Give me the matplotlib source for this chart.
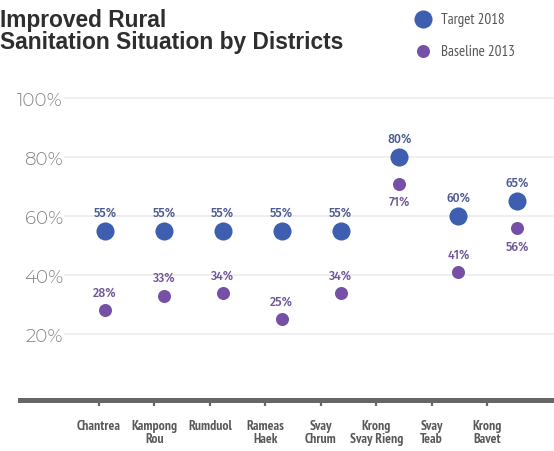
import matplotlib
matplotlib.use("Agg")
import matplotlib.pyplot as plt
import numpy as np

# ---- data ----
districts = ["Chantrea", "Kampong\nRou", "Rumduol", "Rameas\nHaek", "Svay\nChrum",
             "Krong\nSvay Rieng", "Svay\nTeab", "Krong\nBavet"]
target_2018 = [55, 55, 55, 55, 55, 80, 60, 65]
baseline_2013 = [28, 33, 34, 25, 34, 71, 41, 56]
baseline_label_below = [False, False, False, False, False, True, False, True]
y_ticks = [20, 40, 60, 80, 100]
y_tick_labels = ["20%", "40%", "60%", "80%", "100%"]
series_names = ["Target 2018", "Baseline 2013"]
title_lines = ["Improved Rural", "Sanitation Situation by Districts"]

# ---- style ----
W, H = 554, 452
c_target = "#3e5fb0"
c_base = "#7650a6"
c_target_lbl = "#4b5a92"
c_base_lbl = "#6f5498"
c_axis = "#666666"
c_grid = "#ececec"
c_tick = "#858585"

fig = plt.figure(figsize=(W / 100, H / 100), dpi=100)
fig.patch.set_facecolor("white")

# main axes (points)
left_px, right_px, bottom_px, top_px = 20, 554, 401, 70
pos = [left_px / W, 1 - bottom_px / H, (right_px - left_px) / W, (bottom_px - top_px) / H]
ax = fig.add_axes(pos)
ax.set_facecolor("none")
x = np.arange(len(districts))
dot_first_px, dot_step_px = 105, 58.9
ax.set_xlim(-(dot_first_px - left_px) / dot_step_px,
            len(districts) - 1 + (right_px - (dot_first_px + dot_step_px * (len(districts) - 1))) / dot_step_px)
px_per_pct = 2.95
zero_px = 394
ax.set_ylim(-(bottom_px - zero_px) / px_per_pct, (zero_px - top_px) / px_per_pct)

# gridlines starting right of labels
grid_start = (65 - left_px) / (right_px - left_px)
for yt in y_ticks:
    ax.axhline(yt, xmin=grid_start, xmax=1, color=c_grid, lw=1.2, zorder=0)

ax.scatter(x, target_2018, s=170, color=c_target, zorder=3, linewidths=0)
ax.scatter(x, baseline_2013, s=88, color=c_base, zorder=3, linewidths=0)

lbl_font = dict(family="Fira Sans", fontweight=500, fontsize=8.8)
for xi, v in zip(x, target_2018):
    ax.annotate(f"{v}%", (xi, v), xytext=(0, 13.5), textcoords="offset points",
                ha="center", va="center", color=c_target_lbl, **lbl_font)
for xi, v, below in zip(x, baseline_2013, baseline_label_below):
    ax.annotate(f"{v}%", (xi, v), xytext=(0, -13 if below else 13), textcoords="offset points",
                ha="center", va="center", color=c_base_lbl, **lbl_font)

# y ticks inside the plot area
ax.set_yticks(y_ticks)
ax.set_yticklabels(y_tick_labels)
ax.tick_params(axis="y", length=0, pad=-31, labelsize=13.2, labelcolor=c_tick)
for t in ax.get_yticklabels():
    t.set_fontfamily("Montserrat Alternates")
    t.set_fontweight(300)
    t.set_horizontalalignment("right")
ax.set_xticks([])
for s in ["top", "right", "left", "bottom"]:
    ax.spines[s].set_visible(False)

# category axis (labels sit on their own spacing)
axb = fig.add_axes(pos)
axb.set_facecolor("none")
lab_first_px, lab_step_px = 99, 55.45
axb.set_xlim(-(lab_first_px - left_px) / lab_step_px,
             len(districts) - 1 + (right_px - (lab_first_px + lab_step_px * (len(districts) - 1))) / lab_step_px)
axb.set_ylim(0, 1)
axb.set_yticks([])
axb.set_xticks(x)
axb.set_xticklabels(districts, fontfamily="PT Sans Narrow", fontweight="bold",
                    fontsize=9.8, color="#585858", linespacing=1.0)
axb.tick_params(axis="x", length=4.5, width=1.6, color=c_axis, pad=9.5)
for s in ["top", "right", "left"]:
    axb.spines[s].set_visible(False)
axb.spines["bottom"].set_color(c_axis)
axb.spines["bottom"].set_linewidth(3.6)

# title
for line, base_px in zip(title_lines, [27, 49]):
    fig.text(0 / W, 1 - base_px / H, line, ha="left", va="baseline", fontfamily="Liberation Sans",
             fontweight="bold", fontsize=16.4, color="#2e2e2e")

# legend
lax = fig.add_axes([0, 0, 1, 1])
lax.set_xlim(0, W)
lax.set_ylim(H, 0)
lax.axis("off")
leg_y = [20, 52]
leg_sizes = [170, 88]
leg_colors = [c_target, c_base]
for name, yy, ss, cc in zip(series_names, leg_y, leg_sizes, leg_colors):
    lax.scatter([423], [yy], s=ss, color=cc, linewidths=0)
    lax.text(441, yy, name, ha="left", va="center", fontfamily="PT Sans Narrow",
             fontsize=10.8, color="#555555")

fig.savefig("out.png", dpi=100, facecolor="white")
